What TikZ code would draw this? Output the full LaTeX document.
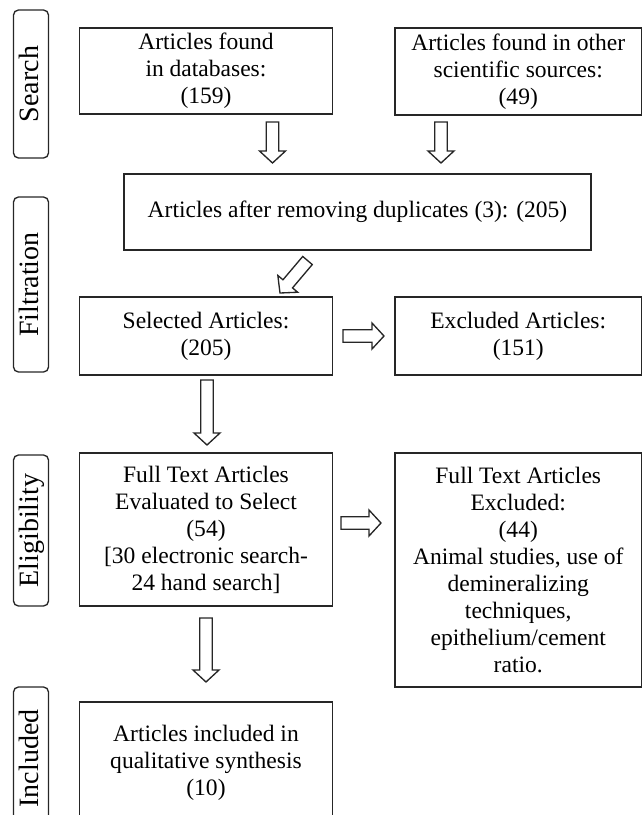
\documentclass[tikz,border=0pt]{standalone}
\usepackage{fontspec}
\setmainfont{Liberation Serif}
\usetikzlibrary{calc}
\tikzset{
  box/.style={draw=black!85, line width=1pt, align=center, inner sep=0pt,
    font=\fontsize{17.65pt}{20.25pt}\selectfont},
  phase/.style={draw=black!85, line width=1pt, rounded corners=3.75pt, rotate=90,
    inner sep=0pt, minimum height=26.25pt, text height=15pt, text depth=4.5pt,
    font=\fontsize{21pt}{24pt}\selectfont},
  blockarr/.style={draw=black!85, line width=1pt, fill=white, line join=miter},
}
\newcommand\barrow[2]{%
  \path ($(#2)!9pt!(#1)$) coordinate (hb);
  \draw[blockarr] ($(#1)!4.7pt!90:(#2)$) -- ($(hb)!4.7pt!90:(#2)$)
    -- ($(hb)!9.75pt!90:(#2)$) -- (#2) -- ($(hb)!9.75pt!-90:(#2)$)
    -- ($(hb)!4.7pt!-90:(#2)$) -- ($(#1)!4.7pt!-90:(#2)$) -- cycle;}
\begin{document}
\begin{tikzpicture}[x=0.75pt,y=-0.75pt]
\useasboundingbox (0,0) rectangle (643,815);
\clip (0,0) rectangle (643,815);
% phase labels
\node[phase, minimum width=111pt]    (L1) at (31,84)    {Search};
\node[phase, minimum width=131.25pt] (L2) at (31,284.5) {Filtration};
\node[phase, minimum width=113.25pt] (L3) at (31,530.5) {Eligibility};
\node[phase, minimum width=107.25pt] (L4) at (31,758.5) {Included};
% boxes
\node[box, minimum width=189.75pt, minimum height=64.5pt] (A) at (206,71)
  {Articles found\\in databases:\\(159)};
\node[box, minimum width=184.9pt, minimum height=65.25pt] (B) at (518.25,71.5)
  {Articles found in other\\scientific sources:\\(49)};
\node[box, minimum width=350.25pt, minimum height=57pt] (C) at (357.5,212)
  {Articles after removing duplicates (3): (205)};
\node[box, minimum width=189.75pt, minimum height=58.5pt] (D) at (206,336)
  {Selected Articles:\\(205)};
\node[box, minimum width=184.9pt, minimum height=58.5pt] (E) at (518.25,336)
  {Excluded Articles:\\(151)};
\node[box, minimum width=189.75pt, minimum height=114.75pt] (F) at (206,529.5)
  {Full Text Articles\\Evaluated to Select\\(54)\\{[30 electronic search-}\\24 hand search]};
\node[box, minimum width=184.9pt, minimum height=175.5pt] (G) at (518.25,570)
  {Full Text Articles\\Excluded:\\(44)\\Animal studies, use of\\demineralizing\\techniques,\\epithelium/cement\\ratio.};
\node[box, minimum width=189.75pt, minimum height=91.5pt] (H) at (206,763)
  {Articles included in\\qualitative synthesis\\(10)};
% arrow end points
\coordinate (a1s) at (272.5,122); \coordinate (a1e) at (272.5,163);
\coordinate (a2s) at (441,122);   \coordinate (a2e) at (441,163);
\coordinate (a3s) at (307.5,260.5); \coordinate (a3e) at (280,293);
\coordinate (a4s) at (343,336);   \coordinate (a4e) at (384,336);
\coordinate (a5s) at (207,380);   \coordinate (a5e) at (207,445);
\coordinate (a6s) at (341,523);   \coordinate (a6e) at (381,523);
\coordinate (a7s) at (206,618);   \coordinate (a7e) at (206,682);
\barrow{a1s}{a1e}
\barrow{a2s}{a2e}
\barrow{a3s}{a3e}
\barrow{a4s}{a4e}
\barrow{a5s}{a5e}
\barrow{a6s}{a6e}
\barrow{a7s}{a7e}
\end{tikzpicture}
\end{document}
